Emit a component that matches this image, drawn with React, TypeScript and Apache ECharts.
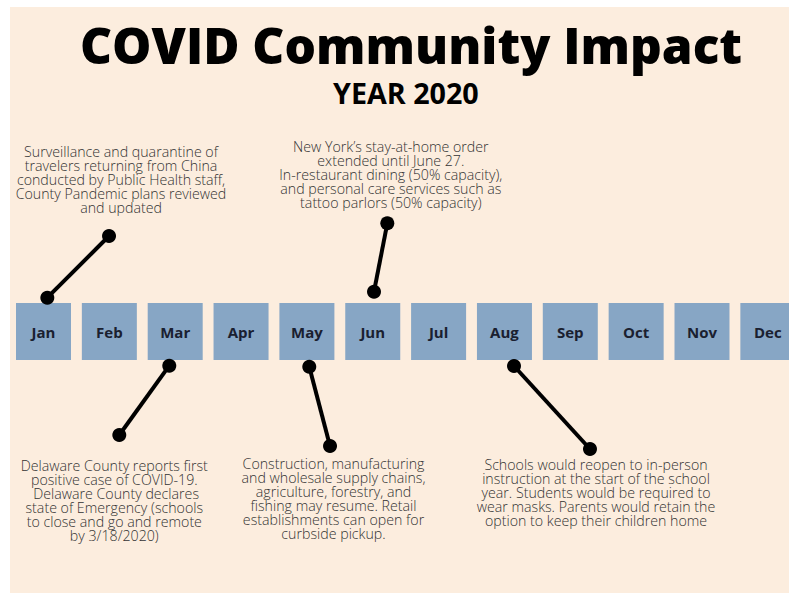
import React, { useEffect, useRef } from "react";
import * as echarts from "echarts";

const months = ["Jan", "Feb", "Mar", "Apr", "May", "Jun", "Jul", "Aug", "Sep", "Oct", "Nov", "Dec"];

// Event connectors: near end (at the month box) and far end (at the note), in month units / pixel offsets from the timeline centre
const eventMonths = ["Jan", "Mar", "May", "Jun", "Aug"];
const nearX = [0.058, 1.91, 4.036, 5.019, 7.145];
const nearY = [33.8, -34.2, -35.2, 39.8, -34.5];
const farX = [0.995, 1.151, 4.351, 5.221, 8.299];
const farY = [95.5, -103.5, -114.5, 108.2, -117.5];
const notes = [
  "Surveillance and quarantine of\ntravelers returning from China\nconducted by Public Health staff,\nCounty Pandemic plans reviewed\nand updated",
  "Delaware County reports first\npositive case of COVID-19.\n Delaware County declares\nstate of Emergency (schools\nto close and go and remote\nby 3/18/2020)",
  "Construction, manufacturing\nand wholesale supply chains,\nagriculture, forestry, and\nfishing may resume. Retail\nestablishments can open for\ncurbside pickup.",
  "New York\u2019s stay-at-home order\nextended until June 27.\nIn-restaurant dining (50% capacity),\nand personal care services such as\ntattoo parlors (50% capacity)",
  "Schools would reopen to in-person\ninstruction at the start of the school\nyear. Students would be required to\nwear masks. Parents would retain the\noption to keep their children home",
];

const titleText = "COVID Community Impact";
const subtitleText = "YEAR 2020";

// label layout (style)
const notePos = ["top", "bottom", "bottom", "top", "bottom"];
const noteOffset = [[12, 0], [-5, 0], [3.5, 0], [3.5, 0], [6, 0]];
const noteDist = [15, 16, 3, 7, 1];

export default function App() {
  const ref = useRef<HTMLDivElement>(null);
  useEffect(() => {
    const chart = echarts.init(ref.current!, null, { renderer: "svg" });
    const W = 789;
    const H = 594;
    const x0 = 43.5;
    const step = 65.85;
    const yc = 331.5;

    const noteStyle = {
      fontFamily: "Open Sans",
      fontWeight: 300,
      fontSize: 14.2,
      lineHeight: 14,
      color: "#333333",
      align: "center",
    };

    const eventSeries = eventMonths.map((m, i) => ({
      type: "line",
      name: m,
      z: 5,
      symbol: "circle",
      symbolSize: 14,
      showSymbol: true,
      itemStyle: { color: "#000" },
      lineStyle: { color: "#000", width: 4 },
      silent: true,
      data: [
        { value: [nearX[i], nearY[i]], label: { show: false } },
        {
          value: [farX[i], farY[i]],
          label: {
            show: true,
            position: notePos[i],
            distance: noteDist[i],
            offset: noteOffset[i],
            formatter: notes[i],
            ...noteStyle,
          },
        },
      ],
    }));

    chart.setOption({
      animation: false,
      backgroundColor: "#ffffff",
      graphic: [
        {
          type: "rect",
          z: -10,
          shape: { x: 10, y: 7, width: W - 10, height: H - 8 },
          style: { fill: "#fcedde" },
          silent: true,
        },
      ],
      title: [
        {
          text: titleText,
          left: 80,
          top: 20,
          padding: 0,
          textStyle: {
            fontFamily: "Open Sans",
            fontWeight: 800,
            fontSize: 49.5,
            color: "#000",
          },
        },
        {
          text: subtitleText,
          left: 333,
          top: 78,
          padding: 0,
          textStyle: {
            fontFamily: "Open Sans",
            fontWeight: 700,
            fontSize: 28.7,
            color: "#000",
          },
        },
      ],
      grid: { left: 0, right: 0, top: 0, bottom: 0, containLabel: false },
      xAxis: {
        type: "value",
        min: -x0 / step,
        max: (W - x0) / step,
        show: false,
      },
      yAxis: {
        type: "value",
        min: -(H - yc),
        max: yc,
        show: false,
      },
      series: [
        {
          type: "scatter",
          z: 2,
          symbol: "rect",
          symbolSize: [55, 57],
          itemStyle: { color: "#87a6c5", opacity: 1 },
          silent: true,
          label: {
            show: true,
            position: "inside",
            formatter: (p: any) => months[p.dataIndex],
            fontFamily: "Open Sans",
            fontWeight: 700,
            fontSize: 15,
            color: "#1a2030",
          },
          data: months.map((_, i) => [i, 0]),
        },
        ...eventSeries,
      ],
    });
    return () => chart.dispose();
  }, []);
  return (
    <div
      ref={ref}
      style={{ position: "fixed", left: 0, top: 0, width: 789, height: 594 }}
    />
  );
}
